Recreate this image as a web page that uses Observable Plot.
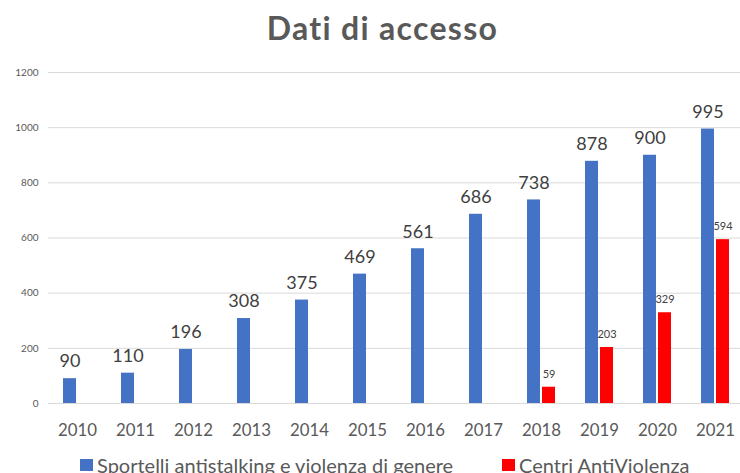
<!DOCTYPE html>
<html>
<head>
<meta charset="utf-8">
<script src="https://cdn.jsdelivr.net/npm/d3@7"></script>
<script src="https://cdn.jsdelivr.net/npm/@observablehq/plot@0.6"></script>
<style>
  html, body { margin: 0; padding: 0; background: #fff; }
  body { width: 740px; height: 473px; overflow: hidden; position: relative; font-family: Lato, "Open Sans", sans-serif; }
  #title { position: absolute; left: 0; top: 8px; width: 765px; text-align: center; font-size: 32px; letter-spacing: 1.3px; font-weight: 700; color: #595959; line-height: 40px; }
  #chart { position: absolute; left: 0; top: 50px; width: 750px; }
  #chart svg { max-width: none !important; }
  #legend { position: absolute; top: 453px; left: 0; width: 740px; height: 24px; font-size: 20px; line-height: 24px; color: #595959; }
  .item { position: absolute; top: 0; height: 24px; display: flex; align-items: center; white-space: nowrap; }
  .sw { width: 12.5px; height: 12.5px; margin-right: 4.5px; }
</style>
</head>
<body>
<div id="title">Dati di accesso</div>
<div id="chart"></div>
<div id="legend"></div>
<script>
const years = ["2010","2011","2012","2013","2014","2015","2016","2017","2018","2019","2020","2021"];
const sportelli = [90, 110, 196, 308, 375, 469, 561, 686, 738, 878, 900, 995];
const centriYears = ["2018","2019","2020","2021"];
const centri = [59, 203, 329, 594];
const seriesNames = ["Sportelli antistalking e violenza di genere", "Centri AntiViolenza"];
const seriesColors = ["#4472C4", "#FF0000"];
const yTicks = [0, 200, 400, 600, 800, 1000, 1200];

const blueData = years.map((y, i) => ({year: y, series: seriesNames[0], value: sportelli[i]}));
const redData = centriYears.map((y, i) => ({year: y, series: seriesNames[1], value: centri[i]}));
const data = blueData.concat(redData);

const chart = Plot.plot({
  width: 750,
  height: 398,
  marginLeft: 46,
  marginRight: 3.2,
  marginTop: 22,
  marginBottom: 45,
  style: {fontFamily: "Lato, 'Open Sans', sans-serif", background: "transparent", fontSize: "16.5px"},
  fx: {domain: years, padding: 0, label: null, axis: null},
  x: {domain: seriesNames, paddingInner: 0.156, paddingOuter: 0.9, axis: null},
  y: {domain: [0, 1200], label: null},
  color: {domain: seriesNames, range: seriesColors},
  marks: [
    Plot.gridY(yTicks, {stroke: "#d9d9d9", strokeOpacity: 1}),
    Plot.axisY(yTicks, {tickSize: 0, tickPadding: 10, fontSize: 10, color: "#595959", label: null, tickFormat: d => String(d)}),
    Plot.axisFx({anchor: "bottom", tickSize: 0, tickPadding: 20.5, fontSize: 16.8, color: "#595959", label: null}),
    Plot.barY(data, {fx: "year", x: "series", y: "value", fill: "series"}),
    Plot.text(blueData, {fx: "year", x: "series", y: "value", text: d => String(d.value), dy: -17, fontSize: 18, fill: "#404040"}),
    Plot.text(redData, {fx: "year", x: "series", y: "value", text: d => String(d.value), dy: -13, fontSize: 11, fill: "#404040"})
  ]
});
document.getElementById("chart").appendChild(chart);

const legend = document.getElementById("legend");
const legendX = [80, 502];
seriesNames.forEach((name, i) => {
  const item = document.createElement("div");
  item.className = "item";
  item.style.left = legendX[i] + "px";
  const sw = document.createElement("div");
  sw.className = "sw";
  sw.style.background = seriesColors[i];
  const label = document.createElement("span");
  label.textContent = name;
  item.appendChild(sw);
  item.appendChild(label);
  legend.appendChild(item);
});
</script>
</body>
</html>
